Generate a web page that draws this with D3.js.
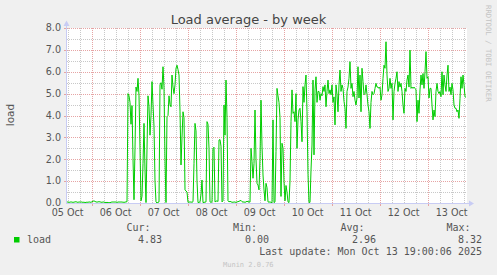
<!DOCTYPE html>
<html><head><meta charset="utf-8">
<script src="https://cdn.jsdelivr.net/npm/d3@7/dist/d3.min.js"></script>
<style>
html,body{margin:0;padding:0;background:#f0f0f0;}
svg{display:block;}
text{font-family:"DejaVu Sans",sans-serif;}
.mono{font-family:"DejaVu Sans Mono",monospace;}
</style></head>
<body>
<script>
// ---- data (one sample per 30 minutes, week graph) ----
const title = "Load average - by week";
const seriesName = "load";
const endTime = Date.UTC(2025, 9, 13, 19, 40);
const stepSeconds = 1800;
const yTicks = [0, 1, 2, 3, 4, 5, 6, 7, 8];
const legendHeaders = ["Cur:", "Min:", "Avg:", "Max:"];
const legendValues = ["4.83", "0.00", "2.96", "8.32"];
const lastUpdate = "Last update: Mon Oct 13 19:00:06 2025";
const loadValues = [
0.04,0.05,0.03,0.04,0.05,0.04,0.03,0.04,0.05,0.06,0.04,0.03,0.05,0.04,0.05,0.04,0.03,0.04,0.02,0.03,
0.04,0.03,0.05,0.04,0.03,0.06,0.08,0.1,0.07,0.05,0.04,0.05,0.06,0.05,0.04,0.03,0.05,0.04,0.03,0.02,
0.03,0.02,0.01,0.02,0.03,0.05,0.04,0.05,0.04,0.05,0.03,0.04,0.05,0.04,0.05,0.04,0.04,0.03,0.04,0.05,0.06,
5.0,4.9,4.6,3.6,4.45,2.0,0.15,2.5,5.3,5.1,5.7,4.9,2.5,0.1,0.3,1.8,3.64,1.5,0.02,2.5,
4.9,4.4,3.1,4.0,5.55,4.5,3.5,1.0,0.05,0.0,0.03,0.05,5.4,5.5,5.2,6.23,5.3,2.0,0.02,3.95,
4.0,4.9,4.5,4.4,5.85,5.3,5.0,5.4,6.16,6.3,6.1,5.85,4.2,1.74,3.0,4.17,3.9,0.6,0.55,0.5,
0.03,0.05,0.04,0.05,0.03,0.06,1.8,3.64,3.3,1.0,0.02,0.03,0.05,0.4,1.05,0.02,0.03,0.04,0.05,3.72,
3.6,2.5,0.05,0.03,0.05,2.5,2.55,0.05,0.08,0.1,0.07,2.88,2.9,2.6,0.05,0.1,4.48,3.1,5.62,3.9,
0.1,0.05,0.08,0.05,0.04,0.03,0.05,0.04,0.03,0.05,0.06,0.08,0.1,0.12,0.06,0.04,0.05,0.03,0.05,0.08,
0.06,0.05,0.04,2.5,1.9,1.13,1.8,4.25,2.0,0.9,0.82,0.6,2.0,4.7,2.6,1.28,0.6,0.1,0.9,0.7,
0.05,0.04,0.05,0.03,0.02,3.8,0.02,0.05,2.35,5.24,4.9,4.6,3.9,0.3,2.73,2.5,0.97,0.1,0.8,0.5,
0.05,0.02,1.0,3.72,5.17,4.1,4.17,3.72,5.0,2.5,3.8,4.25,4.33,3.72,2.8,5.32,4.6,5.4,5.85,4.17,
1.3,0.03,0.03,1.5,2.65,5.62,2.2,5.17,5.77,4.6,5.1,5.1,4.7,5.0,4.9,5.32,5.1,5.4,4.4,5.1,
5.62,5.0,5.17,4.95,5.4,4.6,4.85,3.57,5.4,4.95,4.17,5.4,6.08,5.1,5.4,5.24,4.65,4.33,3.41,5.1,
5.3,5.7,6.46,5.24,5.47,4.86,5.1,4.7,4.48,4.8,6.23,4.8,5.85,4.17,6.16,5.55,4.95,5.0,5.4,4.95,
4.48,4.17,3.41,4.6,5.1,4.95,5.0,5.24,5.47,5.3,5.3,5.24,5.3,4.7,4.95,5.7,6.3,6.16,7.37,5.85,
5.1,5.24,5.7,5.24,5.47,3.8,5.1,5.47,5.7,6.0,5.1,5.55,5.3,5.47,5.1,4.48,4.1,5.24,5.1,5.62,
5.85,5.3,6.99,5.24,5.3,5.24,5.3,5.24,5.17,3.72,4.7,4.1,5.17,5.85,5.4,5.92,5.24,6.0,6.92,5.7,
5.77,4.8,5.24,5.24,4.48,3.8,4.25,3.95,5.1,5.47,5.1,5.0,5.1,4.86,6.0,4.95,5.85,5.4,5.1,5.85,
6.3,5.1,5.3,4.95,5.47,5.17,4.48,4.33,4.33,4.17,4.25,3.87,4.78,5.77,5.24,5.85,5.4,4.86,4.83
];

// ---- layout ----
const W = 497, H = 275;
const L = 67, R = 467, T = 28, B = 203;
const startTime = endTime - 400 * stepSeconds * 1000;

const svg = d3.select("body").append("svg").attr("width", W).attr("height", H);
svg.append("rect").attr("width", W).attr("height", H).attr("fill", "#f0f0f0");

const x = d3.scaleUtc().domain([startTime, endTime]).range([L, R]);
const y = d3.scaleLinear().domain([0, 8]).range([B, T]);

svg.append("rect").attr("x", L).attr("y", T).attr("width", R - L).attr("height", B - T).attr("fill", "#ffffff");

const grid = svg.append("g");
const minorCol = "#c8c8c8", majorCol = "#e6a4a4";

// helper: dotted line drawn as 1px dots via dasharray (no antialias blur)
function dotted(sel, col) {
  return sel.attr("stroke", col).attr("stroke-width", 1)
    .attr("stroke-dasharray", "1 1").attr("shape-rendering", "crispEdges");
}

// horizontal minor grid (every 0.5)
const yMinor = d3.range(0.5, 8, 1);
dotted(grid.selectAll(".hmin").data(yMinor).enter().append("line")
  .attr("x1", L).attr("x2", R)
  .attr("y1", d => Math.round(y(d)) + 0.5).attr("y2", d => Math.round(y(d)) + 0.5), minorCol);

// vertical minor grid (every 6h)
const vMinor = d3.utcHour.every(6).range(new Date(startTime), new Date(endTime))
  .filter(d => d.getUTCHours() !== 0);
dotted(grid.selectAll(".vmin").data(vMinor).enter().append("line")
  .attr("y1", T).attr("y2", B)
  .attr("x1", d => Math.round(x(d)) + 0.5).attr("x2", d => Math.round(x(d)) + 0.5), minorCol);

// horizontal major grid
dotted(grid.selectAll(".hmaj").data(yTicks.filter(d => d > 0)).enter().append("line")
  .attr("x1", L).attr("x2", R)
  .attr("y1", d => Math.round(y(d)) + 0.5).attr("y2", d => Math.round(y(d)) + 0.5), majorCol);

// vertical major grid (midnight)
const vMajor = d3.utcDay.range(new Date(startTime), new Date(endTime));
dotted(grid.selectAll(".vmaj").data(vMajor).enter().append("line")
  .attr("y1", T).attr("y2", B)
  .attr("x1", d => Math.round(x(d)) + 0.5).attr("x2", d => Math.round(x(d)) + 0.5), majorCol);

// small tick marks on the axes at major lines
grid.selectAll(".ytk").data(yTicks.filter(d => d > 0)).enter().append("line")
  .attr("x1", L - 3).attr("x2", L - 1)
  .attr("y1", d => Math.round(y(d)) + 0.5).attr("y2", d => Math.round(y(d)) + 0.5)
  .attr("stroke", majorCol).attr("shape-rendering", "crispEdges");
grid.selectAll(".xtk").data(vMajor).enter().append("line")
  .attr("y1", B + 1).attr("y2", B + 3)
  .attr("x1", d => Math.round(x(d)) + 0.5).attr("x2", d => Math.round(x(d)) + 0.5)
  .attr("stroke", majorCol).attr("shape-rendering", "crispEdges");

// data line
const line = d3.line()
  .x((d, i) => x(startTime + i * stepSeconds * 1000))
  .y(d => y(d));
svg.append("path").datum(loadValues)
  .attr("d", line)
  .attr("fill", "none")
  .attr("stroke", "#00cc00")
  .attr("stroke-width", 1);

// axes
const axisCol = "#c8ccf4";
const ax = svg.append("g");
ax.append("line").attr("x1", L - 0.5).attr("x2", L - 0.5).attr("y1", B + 1).attr("y2", T - 4)
  .attr("stroke", axisCol).attr("stroke-width", 1).attr("shape-rendering", "crispEdges");
ax.append("line").attr("x1", L - 1).attr("x2", R + 3).attr("y1", B + 0.5).attr("y2", B + 0.5)
  .attr("stroke", axisCol).attr("stroke-width", 1).attr("shape-rendering", "crispEdges");
ax.append("path").attr("d", `M${L - 3.5},${T - 2} L${L + 2.5},${T - 2} L${L - 0.5},${T - 7.5} Z`).attr("fill", axisCol);
ax.append("path").attr("d", `M${R + 2},${B - 2.5} L${R + 2},${B + 3.5} L${R + 7},${B + 0.5} Z`).attr("fill", axisCol);

// y tick labels
svg.selectAll(".ylab").data(yTicks).enter().append("text")
  .attr("x", 61).attr("y", d => y(d) + 3.3)
  .attr("text-anchor", "end")
  .attr("font-size", "9.6px").attr("fill", "#555")
  .text(d3.format(".1f"));

// x tick labels (centred at noon)
const noons = d3.utcDay.range(new Date(startTime - 86400000), new Date(endTime))
  .map(d => new Date(+d + 43200000))
  .filter(d => +d >= startTime - 3600000 && +d <= endTime);
const fmt = d3.utcFormat("%d %b");
svg.selectAll(".xlab").data(noons).enter().append("text")
  .attr("x", d => x(d)).attr("y", 216)
  .attr("text-anchor", "middle")
  .attr("font-size", "9.6px").attr("fill", "#555")
  .text(d => fmt(d));

// title
svg.append("text").attr("x", 248.5).attr("y", 24).attr("text-anchor", "middle")
  .attr("font-size", "13px").attr("fill", "#444").text(title);

// y label
svg.append("text").attr("transform", "translate(13.5,115) rotate(-90)")
  .attr("text-anchor", "middle").attr("font-size", "10.5px").attr("fill", "#555").text(seriesName);

// watermark
svg.append("text").attr("class", "mono").attr("transform", "translate(485.5,5) rotate(90)")
  .attr("text-anchor", "start").attr("font-size", "7.3px").attr("fill", "#c4c4c4")
  .text("RRDTOOL / TOBI OETIKER");

// legend
svg.append("rect").attr("x", 14).attr("y", 237).attr("width", 5.5).attr("height", 5.5).attr("fill", "#00cc00");
svg.append("text").attr("class", "mono").attr("x", 27).attr("y", 242.5)
  .attr("font-size", "10px").attr("fill", "#555").text(seriesName);
const headerEnds = [150.5, 257, 364.5, 470.5];
const valueEnds = [162, 269, 376, 482];
svg.selectAll(".lh").data(legendHeaders).enter().append("text").attr("class", "mono")
  .attr("x", (d, i) => headerEnds[i]).attr("y", 231.3).attr("text-anchor", "end")
  .attr("font-size", "10px").attr("fill", "#555").text(d => d);
svg.selectAll(".lv").data(legendValues).enter().append("text").attr("class", "mono")
  .attr("x", (d, i) => valueEnds[i]).attr("y", 242.5).attr("text-anchor", "end")
  .attr("font-size", "10px").attr("fill", "#555").text(d => d);
svg.append("text").attr("class", "mono").attr("x", 482).attr("y", 254.5).attr("text-anchor", "end")
  .attr("font-size", "10px").attr("fill", "#555").text(lastUpdate);
svg.append("text").attr("class", "mono").attr("x", 223).attr("y", 267).attr("text-anchor", "start")
  .attr("font-size", "7px").attr("fill", "#c4c4c4").text("Munin 2.0.76");
</script>
</body></html>
